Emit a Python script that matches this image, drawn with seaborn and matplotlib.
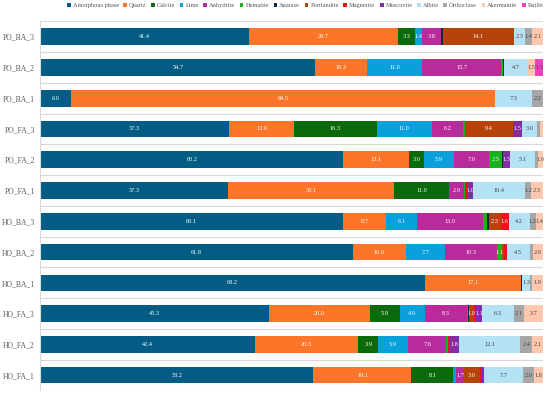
import numpy as np
import pandas as pd
import matplotlib
matplotlib.use("Agg")
import matplotlib.pyplot as plt
import seaborn as sns
from matplotlib.patches import Patch

categories = ["PO_BA_3", "PO_BA_2", "PO_BA_1", "PO_FA_3", "PO_FA_2", "PO_FA_1",
              "HO_BA_3", "HO_BA_2", "HO_BA_1", "HO_FA_3", "HO_FA_2", "HO_FA_1"]

minerals = ["Amorphous phase", "Quartz", "Calcite", "Lime", "Anhydrite", "Hematite",
            "Anatase", "Portlandite", "Magnetite", "Muscovite", "Albite", "Orthoclase",
            "Akermanite", "Rutile"]

colors = ["#025C84", "#FC7528", "#0B6A0B", "#0AA0DC", "#B82B9A", "#1DB01D",
          "#0D2748", "#B4440A", "#E8141C", "#7F2EA8", "#B4E1F4", "#A6A6A6",
          "#FDC8AE", "#EE3FC0"]

amorphous   = [41.4, 54.7, 6.0, 37.3, 60.2, 37.3, 60.1, 61.8, 68.2, 45.3, 42.4, 53.2]
quartz      = [29.7, 10.3, 84.5, 13.0, 13.1, 33.1, 8.7, 10.6, 17.1, 20.0, 20.5, 19.1]
calcite     = [3.3, 0, 0, 16.3, 3.0, 11.0, 0, 0, 0, 5.9, 3.9, 8.1]
lime        = [1.4, 11.0, 0, 11.0, 5.9, 0, 6.1, 7.7, 0, 4.9, 5.9, 0.5]
anhydrite   = [3.8, 15.7, 0, 6.2, 7.0, 2.9, 13.0, 10.3, 0, 8.3, 7.6, 1.7]
hematite    = [0, 0.4, 0, 0.35, 2.5, 0.25, 0.9, 1.1, 0, 0.3, 0.4, 0]
anatase     = [0.4, 0.2, 0, 0, 0.3, 0, 0.4, 0, 0.2, 0.2, 0, 0]
portlandite = [14.1, 0, 0, 9.4, 0, 0, 2.3, 0.4, 0, 1.0, 0, 3.0]
magnetite   = [0, 0, 0, 0.3, 0, 0.6, 1.6, 0.5, 0, 0.4, 0.3, 0.2]
muscovite   = [0, 0, 0, 1.5, 1.3, 1.0, 0, 0, 0, 1.1, 1.8, 0.6]
albite      = [2.3, 4.7, 7.3, 3.0, 5.1, 10.4, 4.2, 4.5, 1.3, 6.3, 12.1, 7.7]
orthoclase  = [1.4, 0, 2.2, 0.7, 0.5, 1.2, 1.2, 0.6, 0.45, 2.1, 2.4, 2.0]
akermanite  = [2.1, 1.5, 0, 0.5, 1.0, 2.3, 1.4, 2.0, 1.9, 3.7, 2.1, 1.8]
rutile      = [0, 1.5, 0, 0, 0, 0, 0, 0, 0, 0, 0, 0]

series = [amorphous, quartz, calcite, lime, anhydrite, hematite, anatase,
          portlandite, magnetite, muscovite, albite, orthoclase, akermanite, rutile]

light = {"Albite", "Orthoclase", "Akermanite", "Rutile"}

sns.set_theme(style="white")
plt.rcParams['font.family'] = ['Liberation Serif', 'DejaVu Serif']

df = pd.DataFrame({m: s for m, s in zip(minerals, series)}, index=categories)
pct = df.div(df.sum(axis=1), axis=0) * 100
cum = pct.cumsum(axis=1)

fig = plt.figure(figsize=(5.5, 3.96), dpi=100)
ax = fig.add_axes([0.0736, 0.0139, 0.9134, 0.9323])

for m, c in reversed(list(zip(minerals, colors))):
    sns.barplot(x=cum[m].values, y=categories, order=categories, orient='h',
                color=c, width=0.54, saturation=1, errorbar=None,
                linewidth=0, ax=ax)

for i, cat in enumerate(categories):
    for m in minerals:
        v = df.loc[cat, m]
        if v >= 1.0:
            xc = cum.loc[cat, m] - pct.loc[cat, m] / 2
            ax.text(xc, i, f"{v:.1f}", ha='center', va='center', fontsize=4.5,
                    color='#404040' if m in light else 'white')

ax.set_xlim(0, 100)
ax.set_ylim(11.5, -0.5)
ax.set_xticks([])
ax.set_xlabel("")
ax.set_ylabel("")
ax.set_yticks(np.arange(-0.5, 12, 1), minor=True)
ax.grid(which='minor', axis='y', color='#D9D9D9', lw=0.8)
ax.grid(which='major', visible=False)
ax.tick_params(which='both', length=0)
ax.tick_params(axis='y', labelsize=5.5, labelcolor='#595959', pad=4)
for s in ['top', 'right', 'bottom']:
    ax.spines[s].set_visible(False)
ax.spines['left'].set_color('#D9D9D9')
ax.spines['left'].set_linewidth(0.8)
ax.set_axisbelow(True)

handles = [Patch(facecolor=c, edgecolor='none') for c in colors]
fig.legend(handles, minerals, loc='center', bbox_to_anchor=(0.555, 0.986),
           ncol=14, fontsize=4.6, frameon=False, handlelength=0.6,
           handleheight=0.6, handletextpad=0.3, columnspacing=0.7,
           labelcolor='#595959', borderaxespad=0, borderpad=0)

fig.savefig("out.png", dpi=100)
